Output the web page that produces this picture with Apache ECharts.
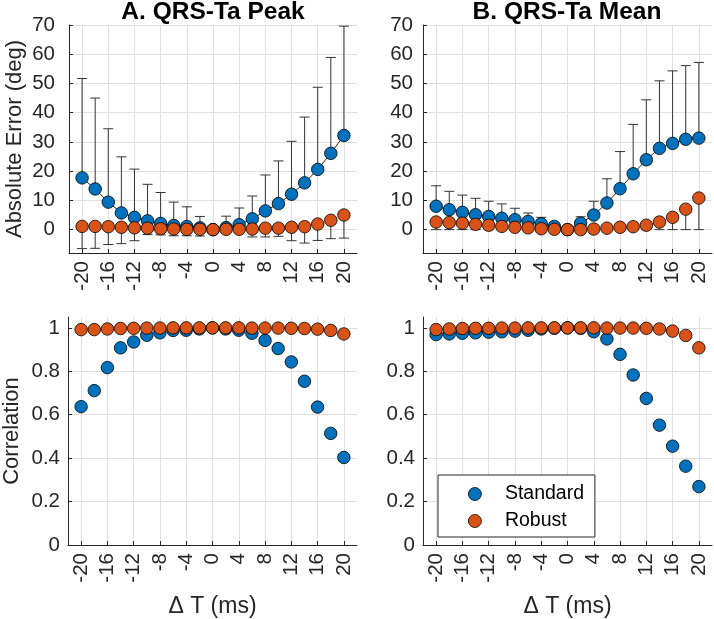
<!DOCTYPE html>
<html>
<head>
<meta charset="utf-8">
<script src="https://cdn.jsdelivr.net/npm/echarts@6/dist/echarts.min.js"></script>
<style>
  html, body { margin: 0; padding: 0; background: #fff; }
  #chart { width: 714px; height: 619px; }
</style>
</head>
<body>
<div id="chart"></div>
<script>
// ---- data ----
const dt = [-20,-18,-16,-14,-12,-10,-8,-6,-4,-2,0,2,4,6,8,10,12,14,16,18,20];
const xTicks = [-20,-16,-12,-8,-4,0,4,8,12,16,20];
const errTicks = [0,10,20,30,40,50,60,70];
const corrTicks = [0,0.2,0.4,0.6,0.8,1];

// A. QRS-Ta Peak : absolute error (deg)
const peakErrStd   = [17.7,13.9,9.4,5.7,4.2,3.0,2.1,1.4,1.1,0.6,0,0.7,1.7,3.7,6.4,8.9,12.1,16.0,20.6,26.1,32.2];
const peakErrStdHi = [51.7,45.0,34.5,24.9,20.7,15.5,12.7,9.4,7.8,4.5,0,4.6,7.4,11.5,18.7,23.5,30.2,38.5,48.7,58.9,69.6];
const peakErrRob   = [1.1,1.1,1.0,0.8,0.6,0.5,0.3,0.2,0.1,0.1,0,0.1,0.1,0.2,0.5,0.5,0.8,1.0,1.9,3.2,5.0];
const peakErrRobLo = [-6.5,-6.4,-5.1,-4.8,-3.8,-1.7,-1.8,-2.1,-2.1,-2.2,0,0,-0.3,-2.5,-2.5,-2.3,-3.8,-4.6,-3.7,-3.1,-2.9];

// B. QRS-Ta Mean : absolute error (deg)
const meanErrStd   = [8.0,6.8,5.9,5.1,4.5,3.9,3.4,2.8,2.0,1.1,0,2.2,5.0,9.1,14.0,19.1,23.9,27.8,29.5,30.9,31.3];
const meanErrStdHi = [15.0,13.1,11.8,10.7,9.7,8.8,7.3,5.7,4.2,2.4,0,4.4,9.7,17.4,26.7,36.0,44.4,50.9,54.3,56.1,57.2];
const meanErrRob   = [2.6,2.4,2.2,1.8,1.5,1.1,0.8,0.6,0.3,0.1,0,0,0.2,0.5,0.8,1.0,1.5,2.6,4.2,7.0,10.8];
const meanErrRobLo = [0,0,0,0,0,0,0,0,0,0,0,0,0,0,0,0,0,0,0,0,0];

// Correlation
const corrPeakStd = [0.637,0.711,0.817,0.908,0.935,0.966,0.977,0.988,0.989,0.995,1,0.995,0.989,0.975,0.942,0.905,0.843,0.754,0.635,0.514,0.403];
const corrPeakRob = [0.992,0.992,0.995,0.997,0.998,0.999,0.999,1,1,1,1,1,1,0.999,0.999,0.999,0.998,0.997,0.994,0.988,0.972];
const corrMeanStd = [0.969,0.972,0.975,0.977,0.980,0.982,0.985,0.989,0.995,0.998,1,0.998,0.982,0.949,0.878,0.783,0.675,0.552,0.455,0.363,0.269];
const corrMeanRob = [0.992,0.995,0.997,0.998,0.998,0.999,0.999,1,1,1,1,1,1,0.999,0.999,0.999,0.998,0.995,0.985,0.965,0.908];

// ---- style ----
const FONT = "'Liberation Sans', Arial, Helvetica, sans-serif";
const TXT = '#262626';
const BLUE = '#0072BD';
const ORANGE = '#D95319';
const GRIDC = '#e0e0e0';
const MS = 12.5;

const pairs = (ys) => dt.map((x, i) => [x, ys[i]]);
const bars = (lo, hi) => dt.map((x, i) => [x, lo[i], hi[i]]);

function barRenderer(capAt) {
  return function (params, api) {
    const x = api.value(0), lo = api.value(1), hi = api.value(2);
    const pLo = api.coord([x, lo]);
    const pHi = api.coord([x, hi]);
    const hw = 5;
    const cy = capAt === 'top' ? pHi[1] : pLo[1];
    const style = { stroke: '#333333', lineWidth: 1 };
    return {
      type: 'group',
      children: [
        { type: 'line', shape: { x1: pLo[0], y1: pLo[1], x2: pHi[0], y2: pHi[1] }, style: style },
        { type: 'line', shape: { x1: pLo[0] - hw, y1: cy, x2: pLo[0] + hw, y2: cy }, style: style }
      ]
    };
  };
}

const grids = [
  { left: 69,  top: 25,  width: 288, height: 228 },
  { left: 423, top: 25,  width: 289, height: 228 },
  { left: 68,  top: 317, width: 289, height: 228 },
  { left: 423, top: 317, width: 289, height: 228 }
];

function xAxis(gi, withName) {
  return {
    type: 'value', gridIndex: gi, min: -22, max: 22,
    name: withName ? 'Δ T (ms)' : '', nameLocation: 'middle', nameGap: 50,
    nameTextStyle: { fontFamily: FONT, fontSize: 23, color: TXT },
    axisLine: { show: true, onZero: false, lineStyle: { color: TXT, width: 1 } },
    axisTick: { show: true, inside: true, length: 4, customValues: xTicks, lineStyle: { color: TXT } },
    axisLabel: { customValues: xTicks, rotate: 90, margin: 8, fontFamily: FONT, fontSize: 20.5, color: TXT },
    splitLine: { show: true, lineStyle: { color: GRIDC, width: 1 } }
  };
}

function yAxis(gi, min, max, ticks, name, margin, nameGap) {
  return {
    type: 'value', gridIndex: gi, min: min, max: max,
    name: name, nameLocation: 'middle', nameGap: nameGap,
    nameTextStyle: { fontFamily: FONT, fontSize: 22, color: TXT },
    axisLine: { show: true, onZero: false, lineStyle: { color: TXT, width: 1 } },
    axisTick: { show: true, inside: true, length: 4, customValues: ticks, lineStyle: { color: TXT } },
    axisLabel: { customValues: ticks, margin: margin, fontFamily: FONT, fontSize: 20.5, color: TXT },
    splitLine: { show: true, lineStyle: { color: GRIDC, width: 1 } }
  };
}

const markerStd = { color: BLUE, borderColor: '#000', borderWidth: 0.8, opacity: 1 };
const markerRob = { color: ORANGE, borderColor: '#000', borderWidth: 0.8, opacity: 1 };

function errPanel(gi, stdVals, stdHi, robVals, robLo) {
  return [
    { type: 'custom', name: 'barsStd' + gi, xAxisIndex: gi, yAxisIndex: gi, renderItem: barRenderer('top'),
      data: bars(stdVals, stdHi), encode: { x: 0, y: [1, 2] }, z: 1, silent: true },
    { type: 'custom', name: 'barsRob' + gi, xAxisIndex: gi, yAxisIndex: gi, renderItem: barRenderer('bottom'),
      data: bars(robLo, robVals), encode: { x: 0, y: [1, 2] }, z: 1, silent: true },
    { type: 'line', name: 'Standard', xAxisIndex: gi, yAxisIndex: gi, data: pairs(stdVals),
      symbol: 'circle', symbolSize: MS, showSymbol: true, itemStyle: markerStd,
      lineStyle: { color: '#222', width: 1 }, z: 3, animation: false },
    { type: 'scatter', name: 'Robust', xAxisIndex: gi, yAxisIndex: gi, data: pairs(robVals),
      symbol: 'circle', symbolSize: MS, itemStyle: markerRob, z: 4, animation: false }
  ];
}

function corrPanel(gi, stdVals, robVals) {
  return [
    { type: 'scatter', name: 'Standard', xAxisIndex: gi, yAxisIndex: gi, data: pairs(stdVals),
      symbol: 'circle', symbolSize: MS, itemStyle: markerStd, z: 3, animation: false },
    { type: 'scatter', name: 'Robust', xAxisIndex: gi, yAxisIndex: gi, data: pairs(robVals),
      symbol: 'circle', symbolSize: MS, itemStyle: markerRob, z: 4, animation: false }
  ];
}

const option = {
  backgroundColor: '#fff',
  animation: false,
  title: [
    { text: 'A. QRS-Ta Peak', left: 213, top: 0, textAlign: 'center', padding: 0,
      textStyle: { fontFamily: FONT, fontSize: 24.5, fontWeight: 'bold', color: '#000' } },
    { text: 'B. QRS-Ta Mean', left: 567, top: 0, textAlign: 'center', padding: 0,
      textStyle: { fontFamily: FONT, fontSize: 24.5, fontWeight: 'bold', color: '#000' } }
  ],
  legend: {
    data: ['Standard', 'Robust'],
    orient: 'vertical', left: 438, top: 475,
    icon: 'circle', itemWidth: 50, itemHeight: 13, itemGap: 7,
    padding: [9, 8, 6, 30],
    borderColor: '#262626', borderWidth: 1, backgroundColor: '#fff',
    itemStyle: { color: 'inherit', borderColor: '#000', borderWidth: 0.8, opacity: 1 },
    textStyle: { fontFamily: FONT, fontSize: 19.5, color: '#000', lineHeight: 18, width: 82 },
    selectedMode: false
  },
  grid: grids,
  xAxis: [xAxis(0, false), xAxis(1, false), xAxis(2, true), xAxis(3, true)],
  yAxis: [
    yAxis(0, -8, 70, errTicks, 'Absolute Error (deg)', 14, 43),
    yAxis(1, -8, 70, errTicks, '', 10, 40),
    yAxis(2, 0, 1.05, corrTicks, 'Correlation', 8, 45),
    yAxis(3, 0, 1.05, corrTicks, '', 8, 40)
  ],
  series: [].concat(
    errPanel(0, peakErrStd, peakErrStdHi, peakErrRob, peakErrRobLo),
    errPanel(1, meanErrStd, meanErrStdHi, meanErrRob, meanErrRobLo),
    corrPanel(2, corrPeakStd, corrPeakRob),
    corrPanel(3, corrMeanStd, corrMeanRob)
  )
};

const chart = echarts.init(document.getElementById('chart'), null, { renderer: 'canvas' });
chart.setOption(option);
</script>
</body>
</html>
